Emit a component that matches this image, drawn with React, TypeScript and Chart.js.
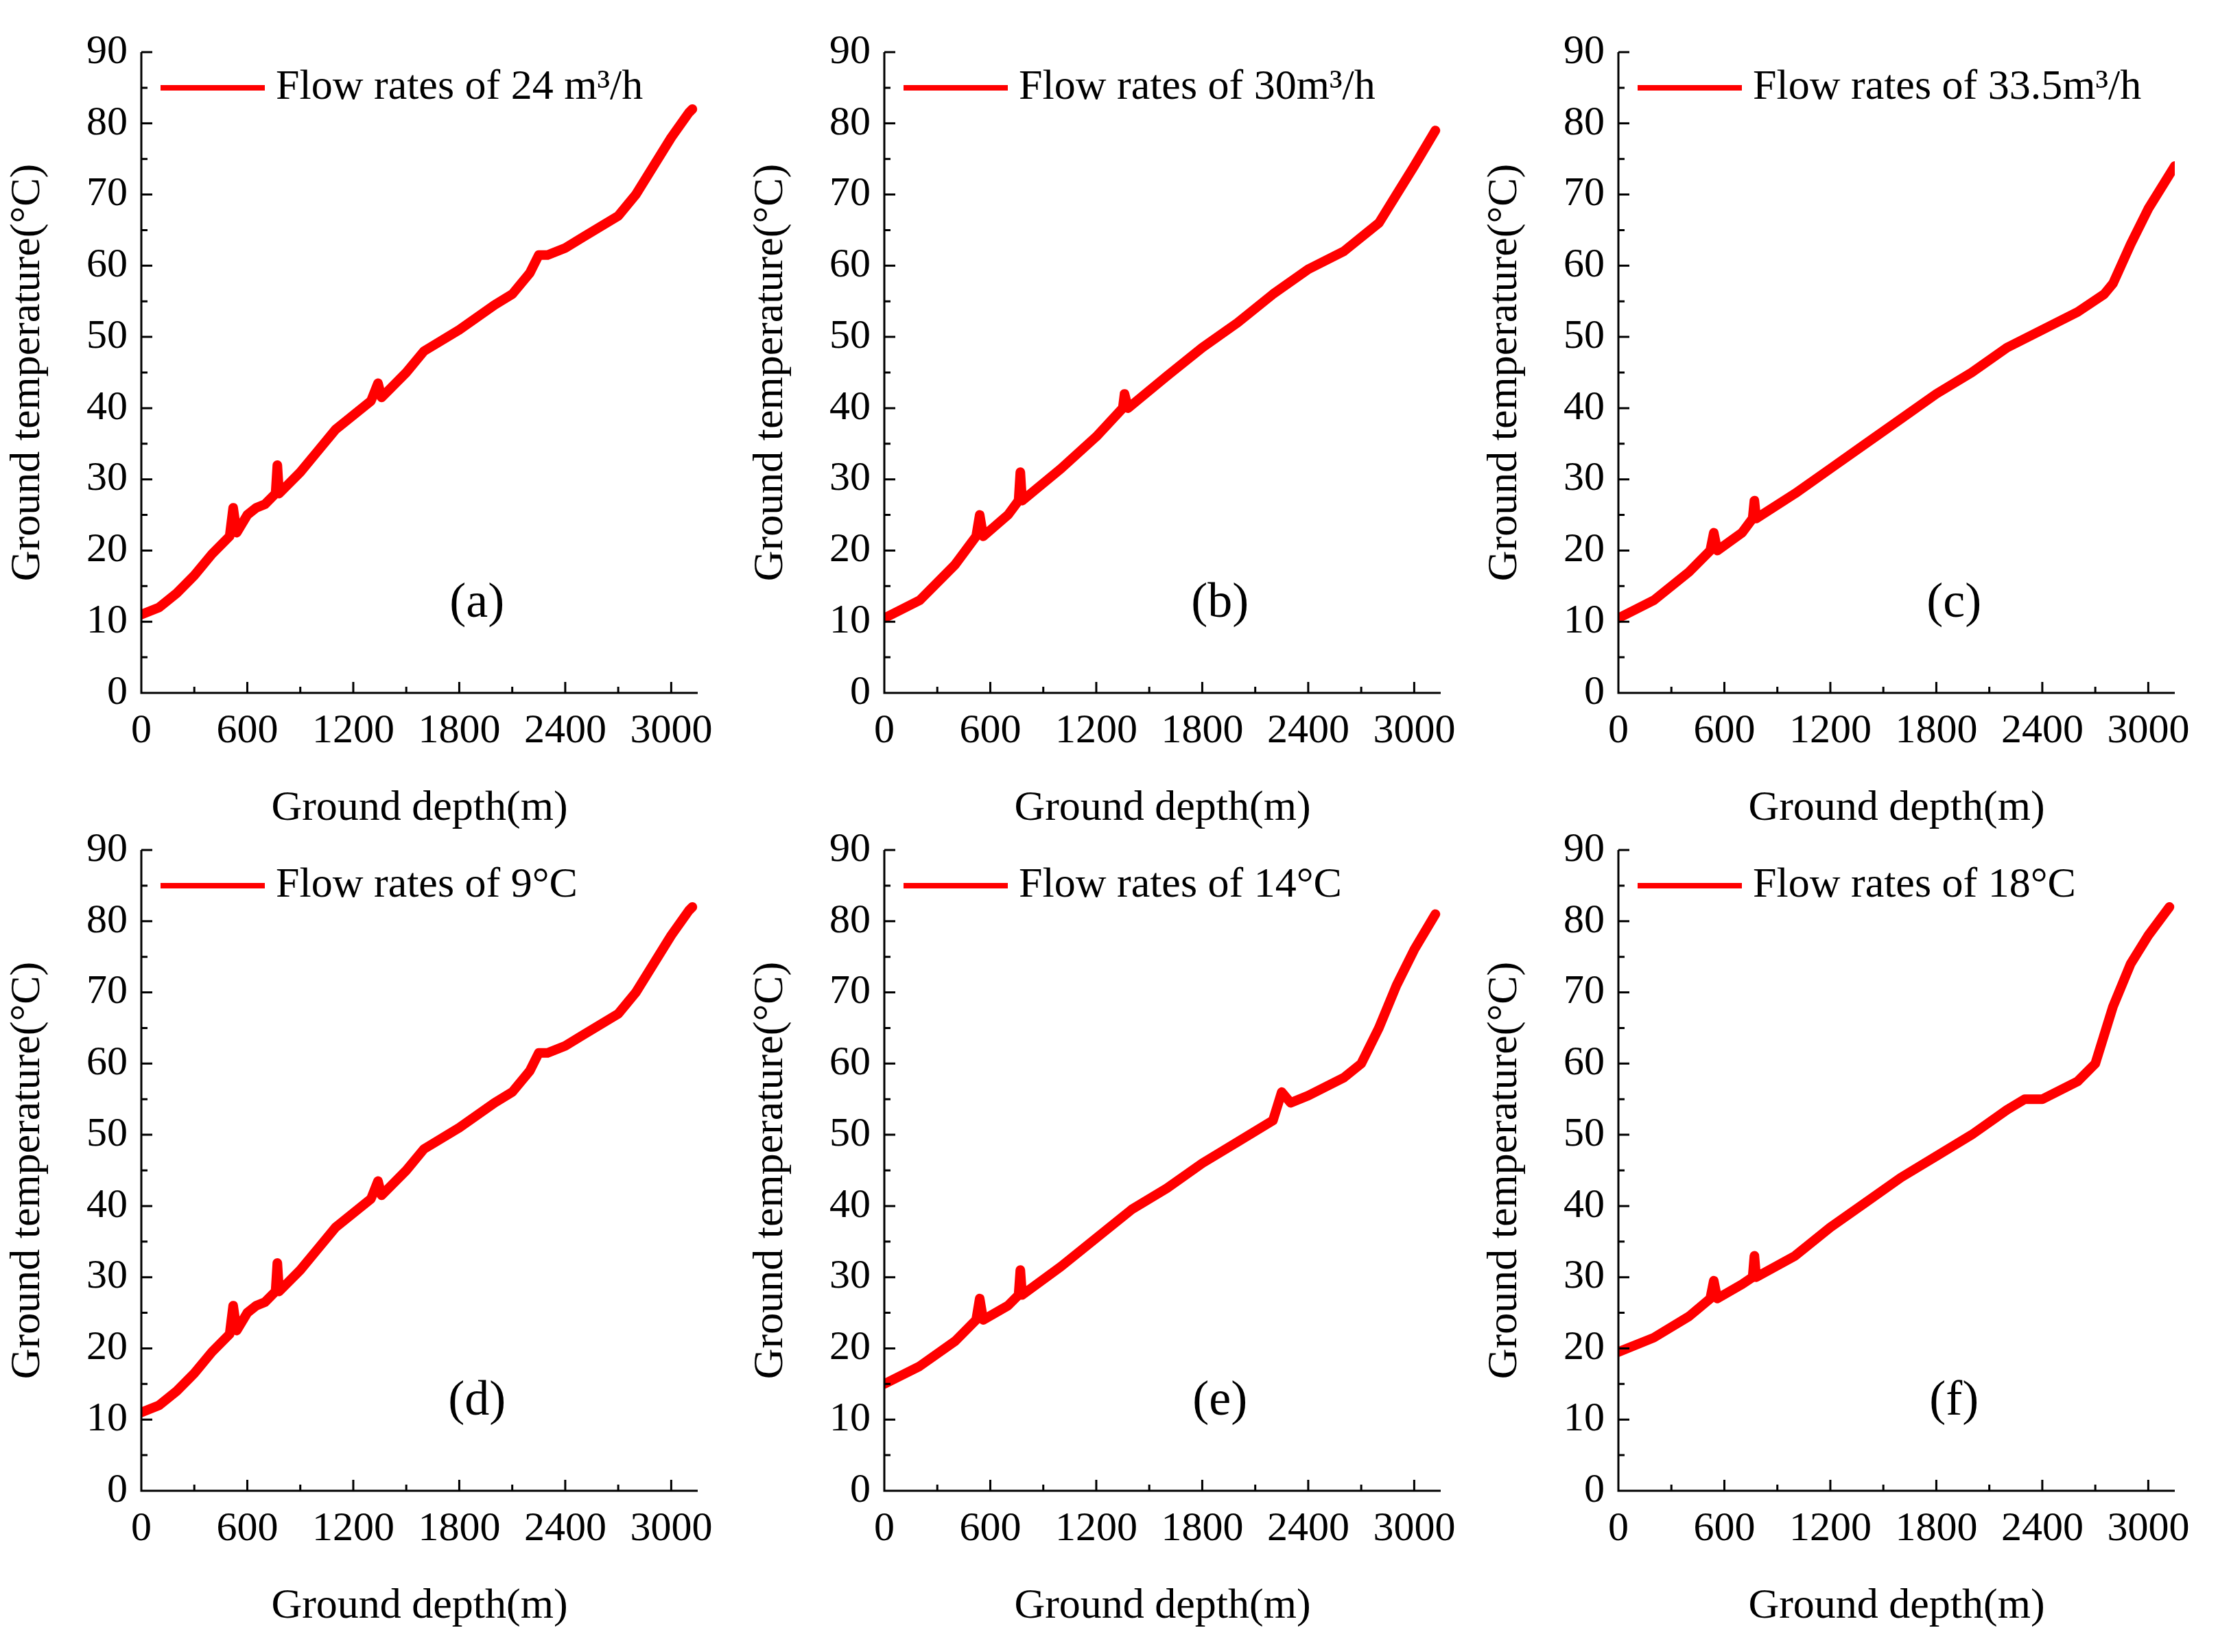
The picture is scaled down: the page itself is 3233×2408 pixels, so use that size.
import React, { useEffect, useRef } from "react";
import { Chart, registerables } from "chart.js";
Chart.register(...registerables);

const depthA = [0,100,200,300,400,500,520,540,600,650,700,760,770,780,900,1000,1100,1200,1300,1340,1360,1500,1600,1800,2000,2100,2200,2250,2300,2400,2500,2600,2700,2800,2900,3000,3100,3120];
const tempA = [11,12,14,16.5,19.5,22,26,22.5,25,26,26.5,28,32,28,31,34,37,39,41,43.5,41.5,45,48,51,54.5,56,59,61.5,61.5,62.5,64,65.5,67,70,74,78,81.5,82];
const depthB = [0,200,400,520,540,560,700,760,770,780,1000,1200,1350,1360,1380,1600,1800,2000,2200,2400,2600,2800,2900,3000,3120];
const tempB = [10.5,13,18,22,25,22,25,27,31,27,31.5,36,40,42,40,44.5,48.5,52,56,59.5,62,66,70,74,79];
const depthC = [0,200,400,520,540,560,700,760,770,780,1000,1200,1400,1600,1800,2000,2200,2400,2600,2750,2800,2900,3000,3100,3150];
const tempC = [10.5,13,17,20,22.5,20,22.5,24.5,27,24.5,28,31.5,35,38.5,42,45,48.5,51,53.5,56,57.5,63,68,72,74];
const depthE = [0,200,400,520,540,560,700,760,770,780,1000,1200,1400,1600,1800,2000,2200,2250,2300,2400,2600,2700,2800,2900,3000,3120];
const tempE = [15,17.5,21,24,27,24,26,27.5,31,27.5,31.5,35.5,39.5,42.5,46,49,52,56,54.5,55.5,58,60,65,71,76,81];
const depthF = [0,200,400,520,540,560,700,760,770,780,1000,1200,1400,1600,1800,2000,2200,2300,2400,2600,2700,2800,2900,3000,3120];
const tempF = [19.5,21.5,24.5,27,29.5,27,29,30,33,30,33,37,40.5,44,47,50,53.5,55,55,57.5,60,68,74,78,82];

const legends = ["Flow rates of 24 m³/h","Flow rates of 30m³/h","Flow rates of 33.5m³/h","Flow rates of 9°C","Flow rates of 14°C","Flow rates of 18°C"];
const labels = ["(a)","(b)","(c)","(d)","(e)","(f)"];
const xTicks = [0,600,1200,1800,2400,3000];
const yTicks = [0,10,20,30,40,50,60,70,80,90];
const panels = [[depthA,tempA],[depthB,tempB],[depthC,tempC],[depthA,tempA],[depthE,tempE],[depthF,tempF]];
const plotLefts = [206,1289,2359];
const plotTops = [68,1231];
const PW = 811, PH = 942;
const FONT = "'Liberation Serif', 'Times New Roman', serif";

function Panel({ idx }: { idx: number }) {
  const ref = useRef<HTMLCanvasElement>(null);
  const padL = 206, padT = 40, padR = 60, padB = 210;
  const left = plotLefts[idx % 3] - padL - 8;
  const top = plotTops[Math.floor(idx / 3)] - padT - 8;
  useEffect(() => {
    const [xs, ys] = panels[idx];
    const deco = {
      id: "deco",
      afterDraw(c: any) {
        const ctx = c.ctx, x = c.scales.x, y = c.scales.y, a = c.chartArea;
        ctx.save();
        ctx.strokeStyle = "#000"; ctx.lineWidth = 3;
        ctx.beginPath();
        ctx.moveTo(a.left, a.top); ctx.lineTo(a.left, a.bottom); ctx.lineTo(a.right, a.bottom);
        for (let v = 0; v <= 3150; v += 300) {
          const px = x.getPixelForValue(v), l = v % 600 === 0 ? 16 : 9;
          ctx.moveTo(px, a.bottom); ctx.lineTo(px, a.bottom - l);
        }
        for (let v = 0; v <= 90; v += 5) {
          const py = y.getPixelForValue(v), l = v % 10 === 0 ? 16 : 9;
          ctx.moveTo(a.left, py); ctx.lineTo(a.left + l, py);
        }
        ctx.stroke();
        const ly = a.top + 52;
        ctx.strokeStyle = "#ff0000"; ctx.lineWidth = 8;
        ctx.beginPath(); ctx.moveTo(a.left + 28, ly); ctx.lineTo(a.left + 180, ly); ctx.stroke();
        ctx.fillStyle = "#000"; ctx.font = `62px ${FONT}`; ctx.textBaseline = "middle";
        ctx.fillText(legends[idx], a.left + 196, ly);
        ctx.font = `72px ${FONT}`; ctx.textAlign = "center";
        ctx.fillText(labels[idx], x.getPixelForValue(1900), y.getPixelForValue(12.5));
        ctx.restore();
      },
    };
    const chart = new Chart(ref.current!, {
      type: "line",
      data: { datasets: [{ data: xs.map((v: number, i: number) => ({ x: v, y: ys[i] })), borderColor: "#ff0000", borderWidth: 14, borderJoinStyle: "round", borderCapStyle: "round", pointRadius: 0, tension: 0 }] },
      options: {
        animation: false, responsive: false, maintainAspectRatio: false,
        layout: { padding: { top: padT, right: padR, left: 0, bottom: 0 } },
        plugins: { legend: { display: false }, tooltip: { enabled: false } },
        scales: {
          x: {
            type: "linear", min: 0, max: 3150,
            afterBuildTicks: (s: any) => { s.ticks = xTicks.map(v => ({ value: v })); },
            afterFit: (s: any) => { s.height = padB; },
            grid: { display: false }, border: { display: false },
            ticks: { color: "#000", font: { family: FONT, size: 60 }, padding: 12, maxRotation: 0, callback: (v: any) => String(v) },
            title: { display: true, text: "Ground depth(m)", color: "#000", font: { family: FONT, size: 62 }, padding: { top: 22 } },
          },
          y: {
            min: 0, max: 90,
            afterBuildTicks: (s: any) => { s.ticks = yTicks.map(v => ({ value: v })); },
            afterFit: (s: any) => { s.width = padL; },
            grid: { display: false }, border: { display: false },
            ticks: { color: "#000", font: { family: FONT, size: 60 }, padding: 12, callback: (v: any) => String(v) },
            title: { display: true, text: "Ground temperature(°C)", color: "#000", font: { family: FONT, size: 62 }, padding: { bottom: 4 } },
          },
        },
      },
      plugins: [deco],
    } as any);
    return () => chart.destroy();
  }, [idx]);
  return <canvas ref={ref} width={padL + PW + padR} height={padT + PH + padB}
    style={{ position: "absolute", left, top, width: padL + PW + padR, height: padT + PH + padB }} />;
}

export default function App() {
  return (
    <div style={{ position: "relative", width: 3225, height: 2400, background: "#fff" }}>
      {[0,1,2,3,4,5].map(i => <Panel key={i} idx={i} />)}
    </div>
  );
}
